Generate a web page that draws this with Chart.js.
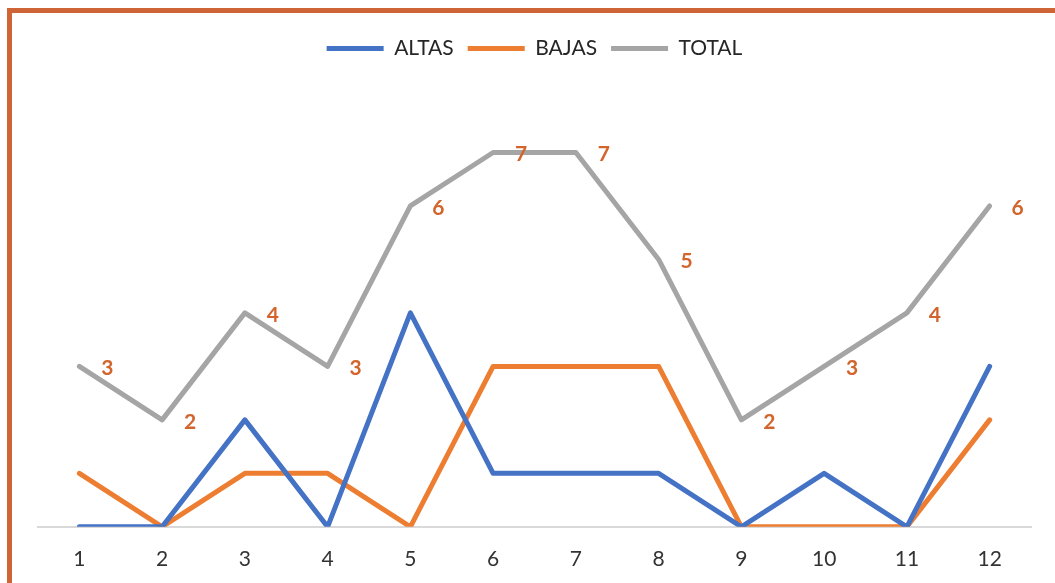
<!DOCTYPE html>
<html>
<head>
<meta charset="utf-8">
<script src="https://cdn.jsdelivr.net/npm/chart.js@4.4.1/dist/chart.umd.min.js"></script>
<style>
  body { margin: 0; background: #fff; overflow: hidden; }
  #wrap { position: relative; width: 1055px; height: 583px; }
  #frame { position: absolute; left: 7px; top: 8px; width: 1200px; height: 700px;
           border: 5px solid #CF6536; box-sizing: border-box; }
  canvas { position: absolute; left: 0; top: 0; }
</style>
</head>
<body>
<div id="wrap">
  <div id="frame"></div>
  <canvas id="chart" width="1055" height="583"></canvas>
</div>
<script>
const months = ['1', '2', '3', '4', '5', '6', '7', '8', '9', '10', '11', '12'];
const altas = [0, 0, 2, 0, 4, 1, 1, 1, 0, 1, 0, 3];
const bajas = [1, 0, 1, 1, 0, 3, 3, 3, 0, 0, 0, 2];
const total = [3, 2, 4, 3, 6, 7, 7, 5, 2, 3, 4, 6];

// labels drawn to the right of the TOTAL points
const totalLabels = {
  id: 'totalLabels',
  afterDatasetsDraw(chart) {
    const meta = chart.getDatasetMeta(2);
    const c = chart.ctx;
    c.save();
    c.font = 'bold 21px Lato';
    c.fillStyle = '#D2642C';
    c.textAlign = 'center';
    c.textBaseline = 'middle';
    meta.data.forEach(function(pt, i) {
      c.fillText(String(total[i]), pt.x + 28, pt.y + 2);
    });
    c.restore();
  }
};

// extra room under the legend
const legendGap = {
  id: 'legendGap',
  beforeInit(chart) {
    const fit = chart.legend.fit;
    chart.legend.fit = function() {
      fit.bind(chart.legend)();
      this.height += 30;
    };
  }
};

function line(label, data, color) {
  return {
    label: label,
    data: data,
    borderColor: color,
    backgroundColor: color,
    borderWidth: 5,
    pointRadius: 0,
    tension: 0,
    borderCapStyle: 'round',
    borderJoinStyle: 'round',
    pointStyle: 'line'
  };
}

new Chart(document.getElementById('chart'), {
  type: 'line',
  data: {
    labels: months,
    datasets: [
      line('ALTAS', altas, '#4472C4'),
      line('BAJAS', bajas, '#ED7D31'),
      line('TOTAL', total, '#A5A5A5')
    ]
  },
  plugins: [totalLabels, legendGap],
  options: {
    responsive: false,
    animation: false,
    layout: { padding: { left: 38, right: 24, top: 24, bottom: -9 } },
    plugins: {
      tooltip: { enabled: false },
      legend: {
        position: 'top',
        labels: {
          usePointStyle: true,
          pointStyleWidth: 57,
          color: '#262626',
          font: { family: 'Lato', size: 21 },
          padding: 14
        }
      }
    },
    scales: {
      x: {
        offset: true,
        grid: { display: false, drawTicks: false },
        border: { color: '#D9D9D9', width: 2 },
        ticks: { color: '#333333', font: { family: 'Lato', size: 21 }, padding: 20 }
      },
      y: {
        display: false,
        min: 0,
        max: 8
      }
    }
  }
});
</script>
</body>
</html>
